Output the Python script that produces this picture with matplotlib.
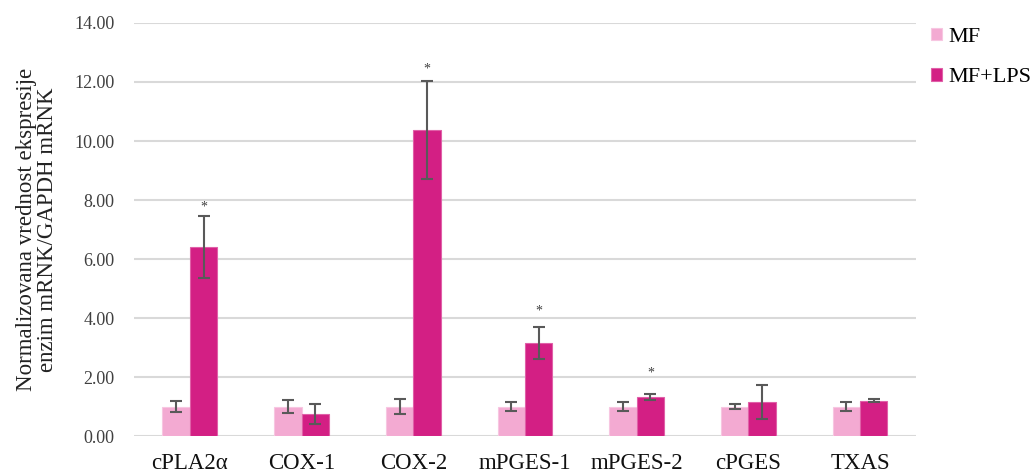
import matplotlib
matplotlib.use("Agg")
import matplotlib.pyplot as plt
import numpy as np

categories = ["cPLA2α", "COX-1", "COX-2", "mPGES-1", "mPGES-2", "cPGES", "TXAS"]
mf_values = [1.00, 1.00, 1.00, 1.00, 1.00, 1.00, 1.00]
mf_errors = [0.18, 0.22, 0.25, 0.14, 0.14, 0.10, 0.14]
lps_values = [6.40, 0.75, 10.38, 3.15, 1.31, 1.15, 1.20]
lps_errors = [1.05, 0.35, 1.67, 0.53, 0.10, 0.57, 0.05]
significant = [True, False, True, True, True, False, False]
star_y = [7.75, 0, 12.45, 4.25, 2.15, 0, 0]
yticks = [0, 2, 4, 6, 8, 10, 12, 14]
ylabel = "Normalizovana vrednost ekspresije\nenzim mRNK/GAPDH mRNK"

plt.rcParams['font.family'] = ['Liberation Serif', 'DejaVu Serif']

fig = plt.figure(figsize=(10.33, 4.75), dpi=100)
ax = fig.add_axes([0.1297, 0.082, 0.757, 0.8696])

x = np.arange(len(categories))
w = 0.245
c_mf = "#F3AAD2"
c_lps = "#D31F84"
ecol = "#595959"

ax.bar(x - w / 2, mf_values, w, color=c_mf, edgecolor="#F7C6E1", linewidth=0.8,
       label="MF", zorder=3)
ax.bar(x + w / 2, lps_values, w, color=c_lps, edgecolor="#E060A8", linewidth=0.8,
       label="MF+LPS", zorder=3)
ax.errorbar(x - w / 2, mf_values, yerr=mf_errors, fmt="none", ecolor=ecol,
            elinewidth=1.5, capsize=4, capthick=1.5, zorder=4)
ax.errorbar(x + w / 2, lps_values, yerr=lps_errors, fmt="none", ecolor=ecol,
            elinewidth=1.5, capsize=4, capthick=1.5, zorder=4)

for i, sig in enumerate(significant):
    if sig:
        ax.text(x[i] + w / 2, star_y[i], "*", ha="center", va="center",
                fontsize=10, color="#404040", zorder=5)

ax.set_xlim(-0.5, len(categories) - 0.5)
ax.set_ylim(0, 14)
ax.set_yticks(yticks)
ax.set_yticklabels([f"{t:.2f}" for t in yticks], fontsize=13, color="#404040")
ax.set_xticks(x)
ax.set_xticklabels(categories, fontsize=16.5, color="#111111")
ax.tick_params(axis="y", length=0, pad=14)
ax.tick_params(axis="x", length=0, pad=12)
ax.grid(axis="y", color="#D9D9D9", linewidth=1.5, zorder=0)
ax.set_axisbelow(True)
for s in ax.spines.values():
    s.set_visible(False)

ax.set_ylabel(ylabel, fontsize=16.5, color="#222222", labelpad=12, linespacing=1.0)

fig.legend(loc="upper left", bbox_to_anchor=(0.901, 0.942), frameon=False,
           fontsize=16, handlelength=0.5, handleheight=0.5, handletextpad=0.3,
           labelspacing=0.95, borderpad=0, borderaxespad=0)

fig.savefig("out.png", dpi=100)
